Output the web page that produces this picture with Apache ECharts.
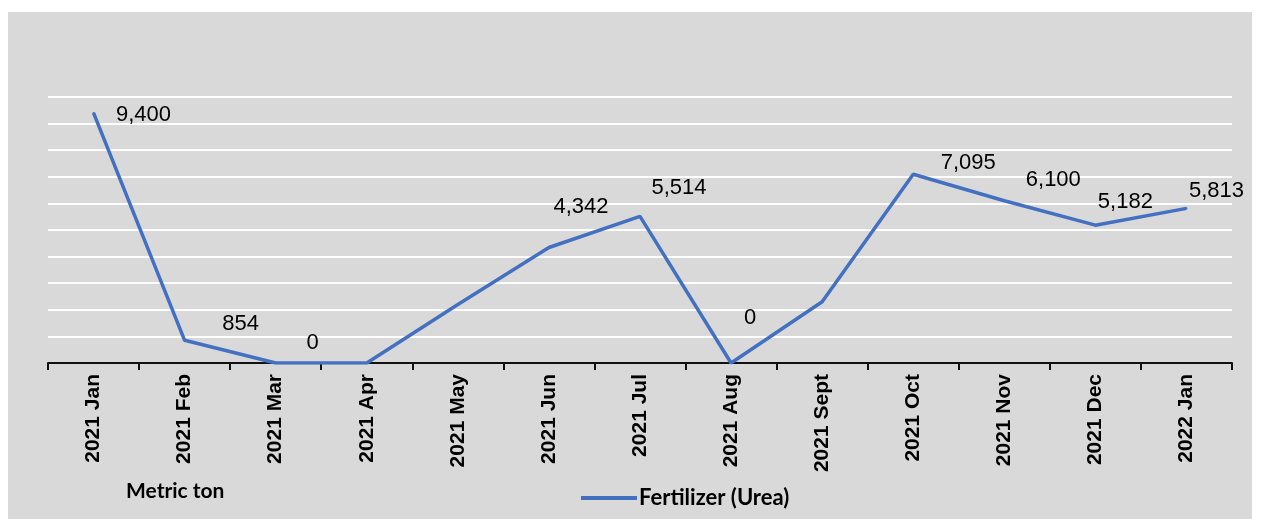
<!DOCTYPE html>
<html>
<head>
<meta charset="utf-8">
<title>Fertilizer (Urea)</title>
<script src="https://cdn.jsdelivr.net/npm/echarts@6/dist/echarts.min.js"></script>
<style>
  html, body { margin: 0; padding: 0; background: #fff; }
  #chart { width: 1261px; height: 519px; }
</style>
</head>
<body>
<div id="chart"></div>
<script>
  // data
  var months = ['2021 Jan', '2021 Feb', '2021 Mar', '2021 Apr', '2021 May', '2021 Jun', '2021 Jul',
    '2021 Aug', '2021 Sept', '2021 Oct', '2021 Nov', '2021 Dec', '2022 Jan'];
  var urea = [9400, 854, 0, 0, 2200, 4342, 5514, 0, 2300, 7095, 6100, 5182, 5813];
  // which points carry a value label (May, Sept and the second zero have none)
  var showLabel = [true, true, true, false, false, true, true, true, false, true, true, true, true];
  var yTicks = [0, 1000, 2000, 3000, 4000, 5000, 6000, 7000, 8000, 9000, 10000];

  // label nudges, hand placed like in the source sheet
  var labelOffset = [[50, 19], [56, 1], [37, -3], [0, 0], [0, 0], [32, -24], [39, -11],
    [19, -28], [0, 0], [55, 6], [49, -4], [30, -6], [30, 0]];

  var lineColor = '#4470c2';

  var seriesData = urea.map(function (v, i) {
    return {
      value: v,
      label: {
        show: showLabel[i],
        offset: labelOffset[i]
      }
    };
  });

  var myChart = echarts.init(document.getElementById('chart'));
  var option = {
    backgroundColor: '#ffffff',
    animation: false,
    graphic: [
      {
        type: 'rect',
        z: -10,
        shape: {x: 8, y: 12, width: 1244, height: 520},
        style: {fill: '#d9d9d9'}
      },
      {
        type: 'text',
        left: 126,
        top: 481,
        style: {
          text: 'Metric ton',
          font: 'bold 21px Lato',
          fill: '#000'
        }
      }
    ],
    grid: {
      left: 48,
      right: 29,
      top: 97,
      bottom: 156,
      containLabel: false
    },
    legend: {
      show: true,
      left: 576,
      top: 482,
      icon: 'rect',
      itemWidth: 56,
      itemHeight: 4,
      itemGap: 2,
      itemStyle: {color: lineColor, opacity: 1},
      textStyle: {
        color: '#000',
        fontFamily: 'Lato',
        fontWeight: 'bold',
        fontSize: 22,
        padding: [0, 0, 0, -3]
      },
      data: ['Fertilizer (Urea)']
    },
    xAxis: [{
      type: 'category',
      boundaryGap: true,
      data: months,
      axisLine: {
        lineStyle: {color: '#111', width: 2}
      },
      axisTick: {
        show: true,
        length: 7,
        lineStyle: {color: '#111', width: 2}
      },
      axisLabel: {
        rotate: 90,
        margin: 11,
        color: '#000',
        fontFamily: 'Liberation Sans',
        fontWeight: 'bold',
        fontSize: 21,
        interval: 0
      }
    }],
    yAxis: [{
      type: 'value',
      min: yTicks[0],
      max: yTicks[yTicks.length - 1],
      interval: yTicks[1] - yTicks[0],
      axisLine: {show: false},
      axisTick: {show: false},
      axisLabel: {show: false},
      splitLine: {
        show: true,
        lineStyle: {color: '#ffffff', width: 2}
      }
    }],
    series: [
      {
        name: 'Fertilizer (Urea)',
        type: 'line',
        data: seriesData,
        symbol: 'circle',
        symbolSize: 2,
        showSymbol: true,
        lineStyle: {color: lineColor, width: 3.5},
        itemStyle: {color: lineColor},
        label: {
          show: false,
          position: 'top',
          distance: 5,
          color: '#000',
          fontFamily: 'Liberation Sans',
          fontSize: 22,
          formatter: function (p) {
            return p.value.toLocaleString('en-US');
          }
        }
      }
    ]
  };
  myChart.setOption(option, true);
</script>
</body>
</html>
